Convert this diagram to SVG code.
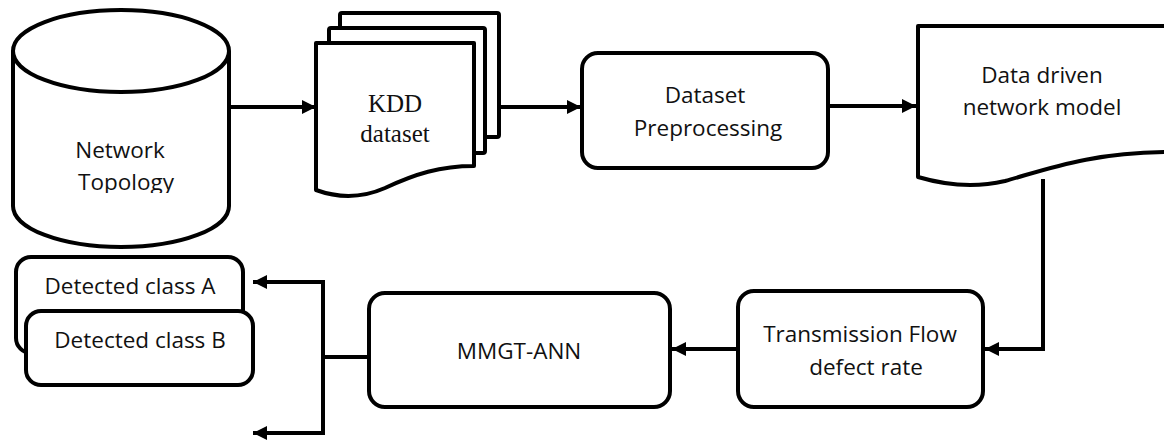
<svg xmlns="http://www.w3.org/2000/svg" width="1164" height="442" viewBox="0 0 1164 442">
<style>
.s{fill:#fff;stroke:#000;stroke-width:4;stroke-linejoin:round}
.c{fill:none;stroke:#000;stroke-width:4}
.t{font-family:"Open Sans","Noto Sans",sans-serif;font-size:22.5px;fill:#111;text-anchor:middle}
.k{font-family:"Liberation Serif","Times New Roman",serif;font-size:25px;fill:#111;text-anchor:middle}
</style>
<defs>
<marker id="ah" markerUnits="userSpaceOnUse" markerWidth="16" markerHeight="16" refX="14" refY="8" orient="auto">
<path d="M0,1 L14,8 L0,15 Z" fill="#000"/>
</marker>
<clipPath id="cylclip"><rect x="0" y="0" width="260" height="193"/></clipPath>
</defs>
<rect width="1164" height="442" fill="#fff"/>

<g id="network-topology">
<path class="s" d="M13,51 V206 A108,41 0 0 0 229,206 V51"/>
<ellipse class="s" cx="121" cy="51" rx="108" ry="41"/>
<g clip-path="url(#cylclip)">
<text class="t" x="120" y="158">Network</text>
<text class="t" x="126" y="190">Topology</text>
</g>
</g>

<g id="kdd-dataset">
<rect class="s" x="340" y="13" width="159" height="124" rx="2"/>
<rect class="s" x="329" y="28" width="156" height="125" rx="2"/>
<path class="s" d="M316,43 H474 V166 C440,166 415,174 385,188 C360,199 338,198 316,190 Z"/>
<text class="k" x="395" y="112">KDD</text>
<text class="k" x="395" y="142">dataset</text>
</g>

<g id="dataset-preprocessing">
<rect class="s" x="582" y="53" width="246" height="115" rx="16"/>
<text class="t" x="705" y="103">Dataset</text>
<text class="t" x="708" y="136">Preprocessing</text>
</g>

<g id="data-driven-model">
<path class="s" d="M918,26 H1172 V152 C1090,152 1045,170 1005,181 C975,188 945,185 918,177 Z"/>
<text class="t" x="1042" y="83">Data driven</text>
<text class="t" x="1042" y="115">network model</text>
</g>

<g id="transmission-flow">
<rect class="s" x="738" y="291" width="245" height="116" rx="16"/>
<text class="t" x="860" y="342">Transmission Flow</text>
<text class="t" x="866" y="375">defect rate</text>
</g>

<g id="mmgt-ann">
<rect class="s" x="369" y="293" width="301" height="114" rx="16"/>
<text class="t" x="519" y="359">MMGT-ANN</text>
</g>

<g id="detected-class-a">
<rect class="s" x="16" y="257" width="227" height="96" rx="15"/>
<text class="t" x="130" y="294">Detected class A</text>
</g>

<g id="detected-class-b">
<rect class="s" x="26" y="311" width="227" height="74" rx="15"/>
<text class="t" x="140" y="348">Detected class B</text>
</g>

<g id="connectors">
<line class="c" x1="229" y1="107" x2="316" y2="107" marker-end="url(#ah)"/>
<line class="c" x1="499" y1="107" x2="581" y2="107" marker-end="url(#ah)"/>
<line class="c" x1="828" y1="106" x2="916" y2="106" marker-end="url(#ah)"/>
<polyline class="c" points="1043,179 1043,349 985,349" marker-end="url(#ah)"/>
<line class="c" x1="738" y1="349" x2="672" y2="349" marker-end="url(#ah)"/>
<line class="c" x1="369" y1="357" x2="323" y2="357"/>
<polyline class="c" points="253,282 323,282 323,433 253,433"/>
<line class="c" x1="300" y1="282" x2="253" y2="282" marker-end="url(#ah)"/>
<line class="c" x1="300" y1="433" x2="253" y2="433" marker-end="url(#ah)"/>
</g>
</svg>
